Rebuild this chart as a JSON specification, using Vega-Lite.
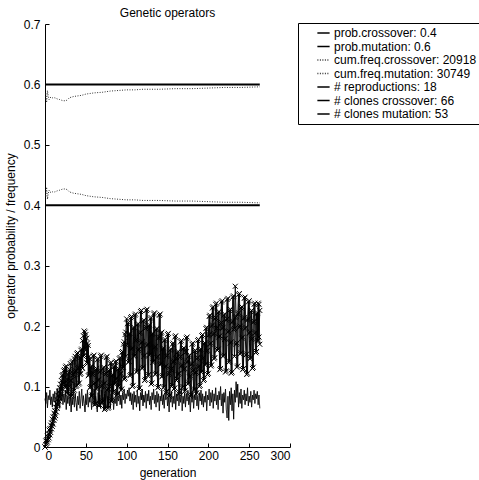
{
  "$schema": "https://vega.github.io/schema/vega-lite/v6.json",
  "autosize": {"type": "none"},
  "padding": {"left": 45, "top": 24, "right": 189, "bottom": 33},
  "width": 245,
  "height": 423,
  "title": {"text": "Genetic operators", "font": "Liberation Sans", "fontSize": 12, "fontWeight": "normal", "color": "#000", "offset": -1.5},
  "config": {
    "view": {"stroke": null},
    "font": "Liberation Sans",
    "axis": {"grid": false, "domainColor": "#000", "tickColor": "#000", "labelColor": "#000", "titleColor": "#000", "labelFont": "Liberation Sans", "titleFont": "Liberation Sans", "labelFontSize": 12, "titleFontSize": 12, "titleFontWeight": "normal", "tickSize": -4, "labelPadding": 8},
    "legend": {"labelFont": "Liberation Sans", "labelFontSize": 12, "labelColor": "#000"}
  },
  "datasets": {
    "keys": [
      {"k": "r", "label": "# reproductions: 18"},
      {"k": "c", "label": "# clones crossover: 66"},
      {"k": "m", "label": "# clones mutation: 53"}
    ],
    "prob": [
      {"g": 0, "v": 0.4, "label": "prob.crossover: 0.4"},
      {"g": 263, "v": 0.4, "label": "prob.crossover: 0.4"},
      {"g": 0, "v": 0.6, "label": "prob.mutation: 0.6"},
      {"g": 263, "v": 0.6, "label": "prob.mutation: 0.6"}
    ],
    "cum": [
      {"g": 1, "v": 0.415, "label": "cum.freq.crossover: 20918"},
      {"g": 2, "v": 0.43, "label": "cum.freq.crossover: 20918"},
      {"g": 3, "v": 0.41, "label": "cum.freq.crossover: 20918"},
      {"g": 4, "v": 0.42, "label": "cum.freq.crossover: 20918"},
      {"g": 5, "v": 0.425, "label": "cum.freq.crossover: 20918"},
      {"g": 6, "v": 0.422, "label": "cum.freq.crossover: 20918"},
      {"g": 8, "v": 0.421, "label": "cum.freq.crossover: 20918"},
      {"g": 10, "v": 0.423, "label": "cum.freq.crossover: 20918"},
      {"g": 12, "v": 0.422, "label": "cum.freq.crossover: 20918"},
      {"g": 15, "v": 0.424, "label": "cum.freq.crossover: 20918"},
      {"g": 18, "v": 0.425, "label": "cum.freq.crossover: 20918"},
      {"g": 20, "v": 0.426, "label": "cum.freq.crossover: 20918"},
      {"g": 22, "v": 0.427, "label": "cum.freq.crossover: 20918"},
      {"g": 25, "v": 0.427, "label": "cum.freq.crossover: 20918"},
      {"g": 27, "v": 0.426, "label": "cum.freq.crossover: 20918"},
      {"g": 30, "v": 0.422, "label": "cum.freq.crossover: 20918"},
      {"g": 35, "v": 0.42, "label": "cum.freq.crossover: 20918"},
      {"g": 40, "v": 0.419, "label": "cum.freq.crossover: 20918"},
      {"g": 45, "v": 0.418, "label": "cum.freq.crossover: 20918"},
      {"g": 50, "v": 0.416, "label": "cum.freq.crossover: 20918"},
      {"g": 55, "v": 0.415, "label": "cum.freq.crossover: 20918"},
      {"g": 60, "v": 0.414, "label": "cum.freq.crossover: 20918"},
      {"g": 70, "v": 0.413, "label": "cum.freq.crossover: 20918"},
      {"g": 80, "v": 0.411, "label": "cum.freq.crossover: 20918"},
      {"g": 90, "v": 0.41, "label": "cum.freq.crossover: 20918"},
      {"g": 100, "v": 0.409, "label": "cum.freq.crossover: 20918"},
      {"g": 110, "v": 0.409, "label": "cum.freq.crossover: 20918"},
      {"g": 120, "v": 0.408, "label": "cum.freq.crossover: 20918"},
      {"g": 140, "v": 0.408, "label": "cum.freq.crossover: 20918"},
      {"g": 160, "v": 0.407, "label": "cum.freq.crossover: 20918"},
      {"g": 180, "v": 0.407, "label": "cum.freq.crossover: 20918"},
      {"g": 200, "v": 0.406, "label": "cum.freq.crossover: 20918"},
      {"g": 220, "v": 0.405, "label": "cum.freq.crossover: 20918"},
      {"g": 240, "v": 0.405, "label": "cum.freq.crossover: 20918"},
      {"g": 263, "v": 0.404, "label": "cum.freq.crossover: 20918"},
      {"g": 1, "v": 0.585, "label": "cum.freq.mutation: 30749"},
      {"g": 2, "v": 0.57, "label": "cum.freq.mutation: 30749"},
      {"g": 3, "v": 0.59, "label": "cum.freq.mutation: 30749"},
      {"g": 4, "v": 0.58, "label": "cum.freq.mutation: 30749"},
      {"g": 5, "v": 0.575, "label": "cum.freq.mutation: 30749"},
      {"g": 6, "v": 0.578, "label": "cum.freq.mutation: 30749"},
      {"g": 8, "v": 0.579, "label": "cum.freq.mutation: 30749"},
      {"g": 10, "v": 0.577, "label": "cum.freq.mutation: 30749"},
      {"g": 12, "v": 0.578, "label": "cum.freq.mutation: 30749"},
      {"g": 15, "v": 0.576, "label": "cum.freq.mutation: 30749"},
      {"g": 18, "v": 0.575, "label": "cum.freq.mutation: 30749"},
      {"g": 20, "v": 0.574, "label": "cum.freq.mutation: 30749"},
      {"g": 22, "v": 0.573, "label": "cum.freq.mutation: 30749"},
      {"g": 25, "v": 0.573, "label": "cum.freq.mutation: 30749"},
      {"g": 27, "v": 0.574, "label": "cum.freq.mutation: 30749"},
      {"g": 30, "v": 0.578, "label": "cum.freq.mutation: 30749"},
      {"g": 35, "v": 0.58, "label": "cum.freq.mutation: 30749"},
      {"g": 40, "v": 0.581, "label": "cum.freq.mutation: 30749"},
      {"g": 45, "v": 0.582, "label": "cum.freq.mutation: 30749"},
      {"g": 50, "v": 0.584, "label": "cum.freq.mutation: 30749"},
      {"g": 55, "v": 0.585, "label": "cum.freq.mutation: 30749"},
      {"g": 60, "v": 0.586, "label": "cum.freq.mutation: 30749"},
      {"g": 70, "v": 0.587, "label": "cum.freq.mutation: 30749"},
      {"g": 80, "v": 0.589, "label": "cum.freq.mutation: 30749"},
      {"g": 90, "v": 0.59, "label": "cum.freq.mutation: 30749"},
      {"g": 100, "v": 0.591, "label": "cum.freq.mutation: 30749"},
      {"g": 110, "v": 0.591, "label": "cum.freq.mutation: 30749"},
      {"g": 120, "v": 0.592, "label": "cum.freq.mutation: 30749"},
      {"g": 140, "v": 0.592, "label": "cum.freq.mutation: 30749"},
      {"g": 160, "v": 0.593, "label": "cum.freq.mutation: 30749"},
      {"g": 180, "v": 0.593, "label": "cum.freq.mutation: 30749"},
      {"g": 200, "v": 0.594, "label": "cum.freq.mutation: 30749"},
      {"g": 220, "v": 0.595, "label": "cum.freq.mutation: 30749"},
      {"g": 240, "v": 0.595, "label": "cum.freq.mutation: 30749"},
      {"g": 263, "v": 0.596, "label": "cum.freq.mutation: 30749"}
    ],
    "noisy": [
      {"g":0,"r":0.080,"c":0.000,"m":0.000},
      {"g":1,"r":0.072,"c":0.004,"m":0.010},
      {"g":2,"r":0.090,"c":0.012,"m":0.006},
      {"g":3,"r":0.065,"c":0.008,"m":0.018},
      {"g":4,"r":0.085,"c":0.022,"m":0.012},
      {"g":5,"r":0.078,"c":0.015,"m":0.028},
      {"g":6,"r":0.094,"c":0.030,"m":0.020},
      {"g":7,"r":0.070,"c":0.024,"m":0.036},
      {"g":8,"r":0.083,"c":0.040,"m":0.030},
      {"g":9,"r":0.066,"c":0.034,"m":0.046},
      {"g":10,"r":0.088,"c":0.050,"m":0.038},
      {"g":11,"r":0.075,"c":0.044,"m":0.056},
      {"g":12,"r":0.092,"c":0.060,"m":0.048},
      {"g":13,"r":0.068,"c":0.052,"m":0.066},
      {"g":14,"r":0.082,"c":0.072,"m":0.058},
      {"g":15,"r":0.097,"c":0.064,"m":0.078},
      {"g":16,"r":0.071,"c":0.085,"m":0.070},
      {"g":17,"r":0.086,"c":0.076,"m":0.092},
      {"g":18,"r":0.064,"c":0.098,"m":0.082},
      {"g":19,"r":0.090,"c":0.088,"m":0.104},
      {"g":20,"r":0.076,"c":0.110,"m":0.094},
      {"g":21,"r":0.101,"c":0.096,"m":0.118},
      {"g":22,"r":0.070,"c":0.120,"m":0.104},
      {"g":23,"r":0.088,"c":0.106,"m":0.126},
      {"g":24,"r":0.074,"c":0.128,"m":0.100},
      {"g":25,"r":0.094,"c":0.098,"m":0.132},
      {"g":26,"r":0.062,"c":0.134,"m":0.108},
      {"g":27,"r":0.085,"c":0.112,"m":0.090},
      {"g":28,"r":0.072,"c":0.088,"m":0.120},
      {"g":29,"r":0.098,"c":0.124,"m":0.096},
      {"g":30,"r":0.068,"c":0.100,"m":0.128},
      {"g":31,"r":0.090,"c":0.138,"m":0.110},
      {"g":32,"r":0.058,"c":0.110,"m":0.084},
      {"g":33,"r":0.082,"c":0.086,"m":0.140},
      {"g":34,"r":0.070,"c":0.142,"m":0.118},
      {"g":35,"r":0.095,"c":0.120,"m":0.092},
      {"g":36,"r":0.066,"c":0.094,"m":0.146},
      {"g":37,"r":0.088,"c":0.150,"m":0.124},
      {"g":38,"r":0.074,"c":0.126,"m":0.100},
      {"g":39,"r":0.060,"c":0.102,"m":0.154},
      {"g":40,"r":0.084,"c":0.156,"m":0.130},
      {"g":41,"r":0.070,"c":0.132,"m":0.104},
      {"g":42,"r":0.092,"c":0.106,"m":0.150},
      {"g":43,"r":0.064,"c":0.148,"m":0.120},
      {"g":44,"r":0.080,"c":0.122,"m":0.160},
      {"g":45,"r":0.096,"c":0.162,"m":0.132},
      {"g":46,"r":0.068,"c":0.130,"m":0.176},
      {"g":47,"r":0.085,"c":0.184,"m":0.150},
      {"g":48,"r":0.072,"c":0.152,"m":0.192},
      {"g":49,"r":0.058,"c":0.190,"m":0.164},
      {"g":50,"r":0.088,"c":0.160,"m":0.186},
      {"g":51,"r":0.070,"c":0.180,"m":0.140},
      {"g":52,"r":0.094,"c":0.138,"m":0.172},
      {"g":53,"r":0.066,"c":0.168,"m":0.118},
      {"g":54,"r":0.082,"c":0.120,"m":0.150},
      {"g":55,"r":0.074,"c":0.146,"m":0.098},
      {"g":56,"r":0.090,"c":0.100,"m":0.132},
      {"g":57,"r":0.062,"c":0.134,"m":0.084},
      {"g":58,"r":0.086,"c":0.086,"m":0.120},
      {"g":59,"r":0.070,"c":0.122,"m":0.150},
      {"g":60,"r":0.096,"c":0.152,"m":0.104},
      {"g":61,"r":0.068,"c":0.106,"m":0.070},
      {"g":62,"r":0.084,"c":0.072,"m":0.128},
      {"g":63,"r":0.076,"c":0.130,"m":0.096},
      {"g":64,"r":0.058,"c":0.098,"m":0.144},
      {"g":65,"r":0.090,"c":0.146,"m":0.110},
      {"g":66,"r":0.072,"c":0.112,"m":0.068},
      {"g":67,"r":0.086,"c":0.070,"m":0.124},
      {"g":68,"r":0.064,"c":0.126,"m":0.150},
      {"g":69,"r":0.094,"c":0.152,"m":0.100},
      {"g":70,"r":0.070,"c":0.102,"m":0.074},
      {"g":71,"r":0.082,"c":0.076,"m":0.130},
      {"g":72,"r":0.060,"c":0.132,"m":0.104},
      {"g":73,"r":0.088,"c":0.106,"m":0.062},
      {"g":74,"r":0.074,"c":0.064,"m":0.120},
      {"g":75,"r":0.092,"c":0.122,"m":0.148},
      {"g":76,"r":0.066,"c":0.150,"m":0.094},
      {"g":77,"r":0.084,"c":0.096,"m":0.064},
      {"g":78,"r":0.070,"c":0.066,"m":0.126},
      {"g":79,"r":0.098,"c":0.128,"m":0.100},
      {"g":80,"r":0.064,"c":0.102,"m":0.138},
      {"g":81,"r":0.086,"c":0.140,"m":0.076},
      {"g":82,"r":0.074,"c":0.078,"m":0.118},
      {"g":83,"r":0.090,"c":0.120,"m":0.090},
      {"g":84,"r":0.062,"c":0.092,"m":0.132},
      {"g":85,"r":0.080,"c":0.134,"m":0.104},
      {"g":86,"r":0.072,"c":0.106,"m":0.140},
      {"g":87,"r":0.094,"c":0.142,"m":0.112},
      {"g":88,"r":0.068,"c":0.114,"m":0.086},
      {"g":89,"r":0.084,"c":0.088,"m":0.128},
      {"g":90,"r":0.076,"c":0.130,"m":0.100},
      {"g":91,"r":0.092,"c":0.102,"m":0.146},
      {"g":92,"r":0.070,"c":0.148,"m":0.120},
      {"g":93,"r":0.086,"c":0.122,"m":0.094},
      {"g":94,"r":0.064,"c":0.096,"m":0.156},
      {"g":95,"r":0.090,"c":0.158,"m":0.130},
      {"g":96,"r":0.078,"c":0.132,"m":0.170},
      {"g":97,"r":0.096,"c":0.174,"m":0.112},
      {"g":98,"r":0.072,"c":0.114,"m":0.186},
      {"g":99,"r":0.088,"c":0.190,"m":0.150},
      {"g":100,"r":0.080,"c":0.212,"m":0.168},
      {"g":101,"r":0.094,"c":0.170,"m":0.204},
      {"g":102,"r":0.084,"c":0.206,"m":0.140},
      {"g":103,"r":0.098,"c":0.142,"m":0.186},
      {"g":104,"r":0.076,"c":0.188,"m":0.118},
      {"g":105,"r":0.090,"c":0.120,"m":0.214},
      {"g":106,"r":0.070,"c":0.216,"m":0.162},
      {"g":107,"r":0.088,"c":0.164,"m":0.100},
      {"g":108,"r":0.062,"c":0.102,"m":0.196},
      {"g":109,"r":0.092,"c":0.198,"m":0.150},
      {"g":110,"r":0.074,"c":0.152,"m":0.218},
      {"g":111,"r":0.086,"c":0.220,"m":0.176},
      {"g":112,"r":0.066,"c":0.178,"m":0.124},
      {"g":113,"r":0.094,"c":0.126,"m":0.202},
      {"g":114,"r":0.072,"c":0.204,"m":0.160},
      {"g":115,"r":0.084,"c":0.162,"m":0.096},
      {"g":116,"r":0.060,"c":0.098,"m":0.188},
      {"g":117,"r":0.090,"c":0.190,"m":0.224},
      {"g":118,"r":0.078,"c":0.226,"m":0.172},
      {"g":119,"r":0.096,"c":0.174,"m":0.130},
      {"g":120,"r":0.068,"c":0.132,"m":0.208},
      {"g":121,"r":0.086,"c":0.210,"m":0.150},
      {"g":122,"r":0.074,"c":0.152,"m":0.110},
      {"g":123,"r":0.092,"c":0.112,"m":0.196},
      {"g":124,"r":0.064,"c":0.198,"m":0.226},
      {"g":125,"r":0.088,"c":0.228,"m":0.168},
      {"g":126,"r":0.076,"c":0.170,"m":0.118},
      {"g":127,"r":0.094,"c":0.120,"m":0.200},
      {"g":128,"r":0.070,"c":0.202,"m":0.152},
      {"g":129,"r":0.084,"c":0.154,"m":0.212},
      {"g":130,"r":0.062,"c":0.214,"m":0.104},
      {"g":131,"r":0.090,"c":0.106,"m":0.186},
      {"g":132,"r":0.078,"c":0.188,"m":0.140},
      {"g":133,"r":0.096,"c":0.142,"m":0.220},
      {"g":134,"r":0.072,"c":0.222,"m":0.164},
      {"g":135,"r":0.086,"c":0.166,"m":0.120},
      {"g":136,"r":0.066,"c":0.122,"m":0.194},
      {"g":137,"r":0.092,"c":0.196,"m":0.148},
      {"g":138,"r":0.074,"c":0.150,"m":0.098},
      {"g":139,"r":0.088,"c":0.100,"m":0.180},
      {"g":140,"r":0.060,"c":0.182,"m":0.218},
      {"g":141,"r":0.084,"c":0.220,"m":0.136},
      {"g":142,"r":0.076,"c":0.138,"m":0.188},
      {"g":143,"r":0.094,"c":0.190,"m":0.116},
      {"g":144,"r":0.070,"c":0.118,"m":0.162},
      {"g":145,"r":0.086,"c":0.164,"m":0.098},
      {"g":146,"r":0.064,"c":0.100,"m":0.176},
      {"g":147,"r":0.090,"c":0.178,"m":0.132},
      {"g":148,"r":0.078,"c":0.134,"m":0.090},
      {"g":149,"r":0.096,"c":0.092,"m":0.150},
      {"g":150,"r":0.068,"c":0.152,"m":0.186},
      {"g":151,"r":0.082,"c":0.188,"m":0.120},
      {"g":152,"r":0.058,"c":0.122,"m":0.084},
      {"g":153,"r":0.088,"c":0.086,"m":0.160},
      {"g":154,"r":0.074,"c":0.162,"m":0.128},
      {"g":155,"r":0.092,"c":0.130,"m":0.100},
      {"g":156,"r":0.066,"c":0.102,"m":0.170},
      {"g":157,"r":0.084,"c":0.172,"m":0.140},
      {"g":158,"r":0.072,"c":0.142,"m":0.096},
      {"g":159,"r":0.094,"c":0.098,"m":0.182},
      {"g":160,"r":0.062,"c":0.184,"m":0.146},
      {"g":161,"r":0.088,"c":0.148,"m":0.110},
      {"g":162,"r":0.076,"c":0.112,"m":0.156},
      {"g":163,"r":0.090,"c":0.158,"m":0.120},
      {"g":164,"r":0.068,"c":0.122,"m":0.088},
      {"g":165,"r":0.086,"c":0.090,"m":0.148},
      {"g":166,"r":0.074,"c":0.150,"m":0.174},
      {"g":167,"r":0.096,"c":0.176,"m":0.134},
      {"g":168,"r":0.060,"c":0.136,"m":0.098},
      {"g":169,"r":0.084,"c":0.100,"m":0.162},
      {"g":170,"r":0.072,"c":0.164,"m":0.128},
      {"g":171,"r":0.090,"c":0.130,"m":0.092},
      {"g":172,"r":0.066,"c":0.094,"m":0.156},
      {"g":173,"r":0.088,"c":0.158,"m":0.180},
      {"g":174,"r":0.076,"c":0.182,"m":0.140},
      {"g":175,"r":0.094,"c":0.142,"m":0.104},
      {"g":176,"r":0.070,"c":0.106,"m":0.150},
      {"g":177,"r":0.082,"c":0.152,"m":0.116},
      {"g":178,"r":0.058,"c":0.118,"m":0.084},
      {"g":179,"r":0.090,"c":0.086,"m":0.136},
      {"g":180,"r":0.074,"c":0.138,"m":0.170},
      {"g":181,"r":0.092,"c":0.172,"m":0.126},
      {"g":182,"r":0.064,"c":0.128,"m":0.094},
      {"g":183,"r":0.086,"c":0.096,"m":0.158},
      {"g":184,"r":0.078,"c":0.160,"m":0.122},
      {"g":185,"r":0.096,"c":0.124,"m":0.088},
      {"g":186,"r":0.068,"c":0.090,"m":0.146},
      {"g":187,"r":0.084,"c":0.148,"m":0.176},
      {"g":188,"r":0.062,"c":0.178,"m":0.132},
      {"g":189,"r":0.090,"c":0.134,"m":0.100},
      {"g":190,"r":0.076,"c":0.102,"m":0.160},
      {"g":191,"r":0.094,"c":0.162,"m":0.124},
      {"g":192,"r":0.070,"c":0.126,"m":0.184},
      {"g":193,"r":0.088,"c":0.186,"m":0.146},
      {"g":194,"r":0.066,"c":0.148,"m":0.110},
      {"g":195,"r":0.084,"c":0.112,"m":0.170},
      {"g":196,"r":0.074,"c":0.172,"m":0.136},
      {"g":197,"r":0.092,"c":0.138,"m":0.196},
      {"g":198,"r":0.060,"c":0.198,"m":0.158},
      {"g":199,"r":0.086,"c":0.160,"m":0.120},
      {"g":200,"r":0.078,"c":0.122,"m":0.184},
      {"g":201,"r":0.096,"c":0.186,"m":0.216},
      {"g":202,"r":0.068,"c":0.218,"m":0.170},
      {"g":203,"r":0.090,"c":0.172,"m":0.134},
      {"g":204,"r":0.074,"c":0.136,"m":0.200},
      {"g":205,"r":0.094,"c":0.202,"m":0.230},
      {"g":206,"r":0.064,"c":0.232,"m":0.186},
      {"g":207,"r":0.088,"c":0.188,"m":0.146},
      {"g":208,"r":0.076,"c":0.148,"m":0.212},
      {"g":209,"r":0.098,"c":0.214,"m":0.236},
      {"g":210,"r":0.070,"c":0.238,"m":0.196},
      {"g":211,"r":0.086,"c":0.198,"m":0.160},
      {"g":212,"r":0.062,"c":0.162,"m":0.222},
      {"g":213,"r":0.092,"c":0.224,"m":0.182},
      {"g":214,"r":0.078,"c":0.184,"m":0.128},
      {"g":215,"r":0.100,"c":0.130,"m":0.204},
      {"g":216,"r":0.068,"c":0.206,"m":0.240},
      {"g":217,"r":0.088,"c":0.242,"m":0.196},
      {"g":218,"r":0.056,"c":0.198,"m":0.150},
      {"g":219,"r":0.090,"c":0.152,"m":0.218},
      {"g":220,"r":0.074,"c":0.220,"m":0.178},
      {"g":221,"r":0.096,"c":0.180,"m":0.124},
      {"g":222,"r":0.062,"c":0.126,"m":0.210},
      {"g":223,"r":0.048,"c":0.212,"m":0.244},
      {"g":224,"r":0.084,"c":0.246,"m":0.190},
      {"g":225,"r":0.044,"c":0.192,"m":0.140},
      {"g":226,"r":0.092,"c":0.142,"m":0.226},
      {"g":227,"r":0.070,"c":0.228,"m":0.172},
      {"g":228,"r":0.098,"c":0.174,"m":0.122},
      {"g":229,"r":0.060,"c":0.124,"m":0.206},
      {"g":230,"r":0.088,"c":0.208,"m":0.248},
      {"g":231,"r":0.046,"c":0.250,"m":0.194},
      {"g":232,"r":0.094,"c":0.196,"m":0.150},
      {"g":233,"r":0.074,"c":0.266,"m":0.214},
      {"g":234,"r":0.108,"c":0.216,"m":0.170},
      {"g":235,"r":0.082,"c":0.172,"m":0.132},
      {"g":236,"r":0.104,"c":0.134,"m":0.220},
      {"g":237,"r":0.066,"c":0.222,"m":0.252},
      {"g":238,"r":0.090,"c":0.254,"m":0.198},
      {"g":239,"r":0.072,"c":0.200,"m":0.154},
      {"g":240,"r":0.096,"c":0.156,"m":0.230},
      {"g":241,"r":0.064,"c":0.232,"m":0.180},
      {"g":242,"r":0.086,"c":0.182,"m":0.128},
      {"g":243,"r":0.078,"c":0.130,"m":0.212},
      {"g":244,"r":0.094,"c":0.214,"m":0.246},
      {"g":245,"r":0.070,"c":0.248,"m":0.196},
      {"g":246,"r":0.088,"c":0.198,"m":0.152},
      {"g":247,"r":0.076,"c":0.154,"m":0.120},
      {"g":248,"r":0.098,"c":0.122,"m":0.210},
      {"g":249,"r":0.068,"c":0.212,"m":0.240},
      {"g":250,"r":0.084,"c":0.242,"m":0.188},
      {"g":251,"r":0.074,"c":0.190,"m":0.146},
      {"g":252,"r":0.092,"c":0.148,"m":0.224},
      {"g":253,"r":0.066,"c":0.226,"m":0.178},
      {"g":254,"r":0.086,"c":0.180,"m":0.130},
      {"g":255,"r":0.078,"c":0.132,"m":0.206},
      {"g":256,"r":0.094,"c":0.208,"m":0.236},
      {"g":257,"r":0.072,"c":0.238,"m":0.188},
      {"g":258,"r":0.088,"c":0.190,"m":0.156},
      {"g":259,"r":0.080,"c":0.158,"m":0.220},
      {"g":260,"r":0.092,"c":0.222,"m":0.176},
      {"g":261,"r":0.070,"c":0.176,"m":0.238},
      {"g":262,"r":0.086,"c":0.236,"m":0.182},
      {"g":263,"r":0.064,"c":0.170,"m":0.226}
    ]
  },
  "encoding": {
    "x": {"field": "g", "type": "quantitative", "scale": {"domain": [0, 300], "nice": false, "zero": false}, "axis": {"title": "generation", "values": [0, 50, 100, 150, 200, 250, 300], "format": "d", "labelPadding": 7, "titlePadding": 6}},
    "y": {"field": "v", "type": "quantitative", "scale": {"domain": [0, 0.7], "nice": false}, "axis": {"title": "operator probability / frequency", "values": [0, 0.1, 0.2, 0.3, 0.4, 0.5, 0.6, 0.7], "format": ".1~f", "labelPadding": 9, "titlePadding": 6}}
  },
  "layer": [
    {
      "data": {"name": "prob"},
      "mark": {"type": "line", "strokeWidth": 2},
      "encoding": {
        "color": {"field": "label", "type": "nominal",
          "scale": {"domain": ["prob.crossover: 0.4", "prob.mutation: 0.6", "cum.freq.crossover: 20918", "cum.freq.mutation: 30749", "# reproductions: 18", "# clones crossover: 66", "# clones mutation: 53"], "range": ["#000", "#000", "#333", "#333", "#000", "#000", "#000"]},
          "legend": {"title": null, "orient": "none", "legendX": 253, "legendY": -1, "strokeColor": "#000", "fillColor": "#fff", "cornerRadius": 0, "padding": 4, "symbolOffset": 14.5, "symbolSize": 150, "symbolType": "stroke", "symbolStrokeWidth": 1.3, "labelOffset": 3.5, "rowPadding": 1.5, "clipHeight": 12, "labelFontSize": 12, "labelLimit": 300}
        },
        "strokeDash": {"field": "label", "type": "nominal",
          "scale": {"domain": ["prob.crossover: 0.4", "prob.mutation: 0.6", "cum.freq.crossover: 20918", "cum.freq.mutation: 30749", "# reproductions: 18", "# clones crossover: 66", "# clones mutation: 53"], "range": [[1, 0], [1, 0], [1, 1.5], [1, 1.5], [1, 0], [1, 0], [1, 0]]},
          "legend": {"title": null}
        }
      }
    },
    {
      "data": {"name": "cum"},
      "mark": {"type": "line", "strokeWidth": 1},
      "encoding": {"color": {"field": "label", "type": "nominal"}, "strokeDash": {"field": "label", "type": "nominal"}}
    },
    {
      "data": {"name": "noisy"},
      "transform": [
        {"fold": ["r", "c", "m"], "as": ["k", "v"]},
        {"lookup": "k", "from": {"data": {"name": "keys"}, "key": "k", "fields": ["label"]}}
      ],
      "mark": {"type": "line", "strokeWidth": 1},
      "encoding": {"color": {"field": "label", "type": "nominal"}, "strokeDash": {"field": "label", "type": "nominal"}}
    },
    {
      "data": {"name": "noisy"},
      "transform": [
        {"fold": ["c", "m"], "as": ["k", "v"]}
      ],
      "mark": {"type": "point", "shape": "M-1,-1L1,1M-1,1L1,-1", "size": 25, "filled": false, "strokeWidth": 1, "color": "#000", "opacity": 1}
    }
  ]
}
